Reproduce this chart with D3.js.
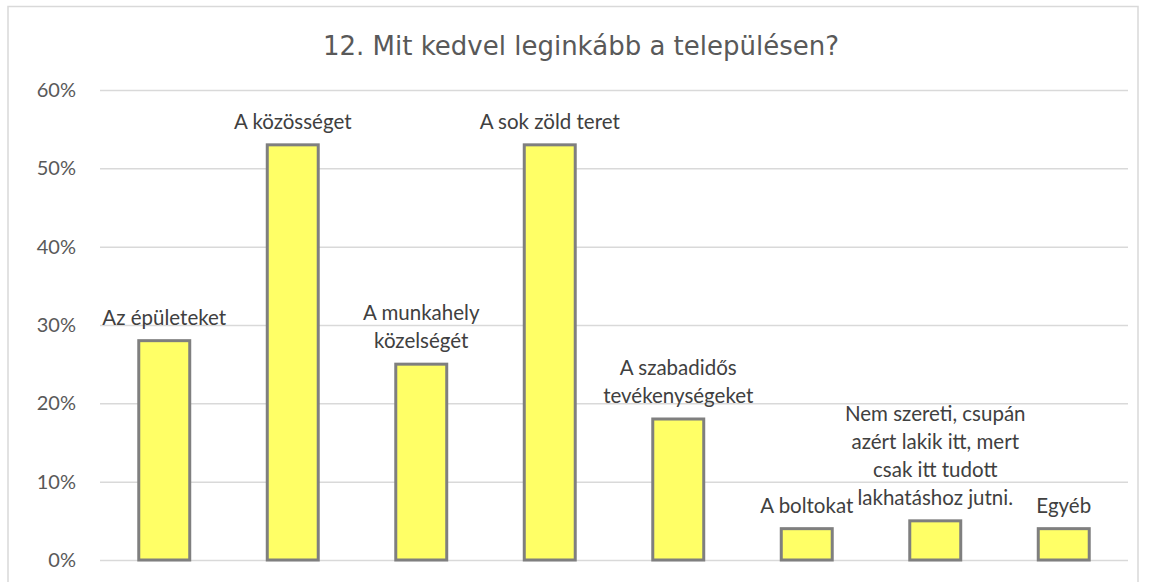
<!DOCTYPE html>
<html><head><meta charset="utf-8">
<script src="https://cdn.jsdelivr.net/npm/d3@7"></script>
<style>body{margin:0;background:#fff;} svg{display:block;}</style>
</head><body><svg id="c" width="1149" height="582"></svg>
<script>
const title = "12. Mit kedvel leginkább a településen?";
const categories = ["Az épületeket","A közösséget","A munkahely közelségét","A sok zöld teret","A szabadidős tevékenységeket","A boltokat","Nem szereti, csupán azért lakik itt, mert csak itt tudott lakhatáshoz jutni.","Egyéb"];
const labelLines = [["Az épületeket"],["A közösséget"],["A munkahely","közelségét"],["A sok zöld teret"],["A szabadidős","tevékenységeket"],["A boltokat"],["Nem szereti, csupán","azért lakik itt, mert","csak itt tudott","lakhatáshoz jutni."],["Egyéb"]];
const values = [0.28,0.53,0.25,0.53,0.18,0.04,0.05,0.04];
const yTicks = [0,0.1,0.2,0.3,0.4,0.5,0.6];

const svg = d3.select("#c");
const m={left:100,right:1128,top:90,bottom:560};
svg.append("rect").attr("x",8).attr("y",6.5).attr("width",1130).attr("height",600)
  .attr("fill","#fff").attr("stroke","#d9d9d9").attr("stroke-width",1.5);

const x = d3.scaleBand().domain(categories).range([m.left,m.right]).paddingInner(0.58).paddingOuter(0.29);
const y = d3.scaleLinear().domain([0,0.6]).range([m.bottom,m.top]);

const ga = svg.append("g").attr("transform",`translate(${m.left},0)`)
  .call(d3.axisLeft(y).tickValues(yTicks).tickFormat(d3.format(".0%")).tickSize(-(m.right-m.left)).tickPadding(24));
ga.select(".domain").remove();
ga.selectAll(".tick line").attr("stroke","#d9d9d9").attr("stroke-width",1.5);
ga.selectAll(".tick text").attr("fill","#595959").style("font-family","Lato, 'Open Sans', sans-serif").style("font-size","20px");

svg.append("text").attr("x",581).attr("y",55).attr("text-anchor","middle")
  .attr("fill","#595959").style("font-family","'DejaVu Sans', Verdana, sans-serif").style("font-size","26px")
  .text(title);

const bars = svg.append("g");
bars.selectAll("rect").data(values).join("rect")
  .attr("x",(d,i)=>x(categories[i])+1.5)
  .attr("y",d=>y(d))
  .attr("width",x.bandwidth()-3)
  .attr("height",d=>y(0)-y(d))
  .attr("fill","#ffff66").attr("stroke","#7f7f7f").attr("stroke-width",3);

const lg = svg.append("g").style("font-family","Lato, 'Open Sans', sans-serif").style("font-size","20.5px").attr("fill","#404040");
values.forEach((v,i)=>{
  const lines = labelLines[i];
  const cx = x(categories[i])+x.bandwidth()/2;
  const base = y(v)-16;
  const t = lg.append("text").attr("text-anchor","middle");
  lines.forEach((ln,j)=>{
    t.append("tspan").attr("x",cx).attr("y",base-(lines.length-1-j)*28).text(ln);
  });
});
</script></body></html>
